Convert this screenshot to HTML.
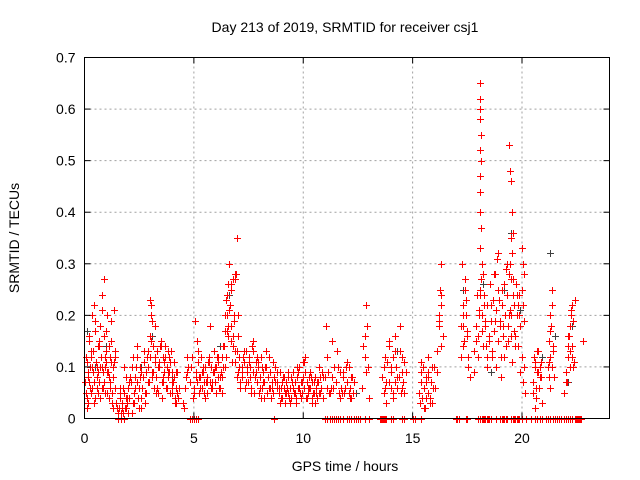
<!DOCTYPE html>
<html><head><meta charset="utf-8"><style>
html,body{margin:0;padding:0;background:#fff;}
svg{display:block;font-family:"Liberation Sans",sans-serif;}
</style></head><body>
<svg id="chart" width="640" height="480" viewBox="0 0 640 480" xmlns="http://www.w3.org/2000/svg">
<text x="345" y="32" font-size="14" text-anchor="middle" fill="#000">Day 213 of 2019, SRMTID for receiver csj1</text>
<text transform="translate(19,238) rotate(-90)" font-size="14" text-anchor="middle" fill="#000">SRMTID / TECUs</text>
<text x="345" y="471" font-size="14" text-anchor="middle" fill="#000">GPS time / hours</text>
<g id="grid"></g>
<g id="black"></g>
<g id="red"></g>
<rect x="84.5" y="57.5" width="525" height="361" fill="none" stroke="#000" stroke-width="1"/>
<g id="ticks"></g>
</svg>
<script>
const xTicks=[0,5,10,15,20];
const yTicks=[0,0.1,0.2,0.3,0.4,0.5,0.6,0.7];
const yTickLabels=["0","0.1","0.2","0.3","0.4","0.5","0.6","0.7"];
const redHours=[
0.05,0.1,0.15,0.2,0.25,0.3,0.35,0.4,0.45,0.5,0.55,0.6,0.65,0.7,0.75,0.8,0.85,0.9,0.95,1.0,1.05,1.1,1.15,1.2,1.25,1.3,1.35,1.4,
0.1,0.2,0.3,0.4,0.5,0.6,0.7,0.8,0.9,1.0,1.1,1.2,1.3,1.4,0.15,0.35,0.55,0.75,0.95,1.15,1.35,0.25,0.45,0.65,0.85,1.05,1.25,
1.5,1.55,1.6,1.65,1.7,1.75,1.8,1.85,1.9,1.95,2.0,1.6,1.7,1.8,1.9,
2.05,2.1,2.2,2.3,2.4,2.5,2.6,2.7,2.8,2.9,3.0,3.05,3.1,3.2,3.3,3.4,3.5,3.6,3.7,3.8,3.9,4.0,4.1,4.2,4.3,
2.15,2.25,2.35,2.45,2.55,2.65,2.75,2.85,2.95,3.05,3.15,3.25,3.35,3.45,3.55,3.65,3.75,3.85,3.95,4.05,4.15,4.25,
2.2,2.4,2.6,2.8,3.0,3.2,3.4,3.6,3.8,4.0,4.2,3.0,3.05,3.1,
4.5,4.6,4.7,4.8,4.9,5.0,5.1,5.2,5.3,5.4,5.5,5.6,5.7,5.8,5.9,6.0,6.1,6.2,
4.55,4.75,4.95,5.15,5.35,5.55,5.75,5.95,6.15,5.05,5.25,5.45,5.65,5.85,6.05,
6.3,6.35,6.4,6.45,6.5,6.55,6.6,6.65,6.7,6.75,6.8,6.85,6.9,6.95,7.0,7.05,7.1,
6.3,6.4,6.5,6.6,6.7,6.8,6.9,7.0,6.45,6.55,6.65,6.85,6.95,6.9,6.92,
7.2,7.3,7.4,7.5,7.6,7.7,7.8,7.9,8.0,8.1,8.2,8.3,8.4,8.5,8.6,8.7,8.8,
7.25,7.35,7.45,7.55,7.65,7.75,7.85,7.95,8.05,8.15,8.25,8.35,8.45,8.55,8.65,
8.9,9.0,9.1,9.2,9.3,9.4,9.5,9.6,9.7,9.8,9.9,10.0,10.1,10.2,10.3,10.4,10.5,10.6,10.7,10.8,10.9,
8.95,9.05,9.15,9.25,9.35,9.45,9.55,9.65,9.75,9.85,9.95,10.05,10.15,10.25,10.35,10.45,10.55,10.65,10.75,10.85,
11.0,11.1,11.2,11.3,11.5,11.6,11.7,11.8,11.9,12.0,12.1,12.2,12.3,11.05,11.25,11.55,11.75,11.95,12.15,
12.7,12.8,12.85,12.9,13.0,12.75,12.95,12.85,12.8,
13.6,13.7,13.75,13.8,13.9,14.0,14.1,14.2,14.3,14.4,14.5,14.6,14.7,13.7,13.8,13.9,14.0,14.2,14.3,14.5,14.6,
15.3,15.4,15.5,15.6,15.7,15.8,15.9,16.0,16.1,16.2,16.3,16.4,15.4,15.5,15.6,15.7,15.8,16.1,16.2,16.3,16.25,16.3,
17.2,17.3,17.4,17.5,17.6,17.25,17.35,17.45,17.55,17.3,17.4,
17.8,17.9,18.0,18.05,18.1,18.15,18.2,18.25,18.3,18.35,18.4,
18.1,18.1,18.1,18.1,18.12,18.1,18.12,18.1,18.08,18.1,18.12,18.1,18.15,18.12,18.1,
18.5,18.6,18.7,18.8,18.9,19.0,19.1,19.2,19.3,19.4,19.5,19.6,19.7,19.8,19.9,
18.55,18.65,18.75,18.85,18.95,19.05,19.15,19.25,19.35,19.45,19.55,19.65,19.75,19.85,
19.4,19.45,19.5,19.55,19.6,19.5,19.45,19.5,19.55,19.6,19.5,
20.0,20.05,20.1,20.0,20.05,20.1,20.0,20.05,
20.5,20.6,20.7,20.8,20.9,20.55,20.65,20.75,20.85,20.6,
21.2,21.25,21.3,21.35,21.4,21.45,21.3,21.35,21.3,21.25,
21.9,22.0,22.1,22.2,22.3,22.4,22.05,22.15,22.25,22.35,22.2,22.3,22.8,
4.8,4.9,5.0,5.1,5.2,8.65,11.0,11.2,11.4,11.6,11.8,12.0,12.2,12.4,12.6,12.8,13.0,13.5,13.6,13.7,13.8,14.0,14.1,14.5,14.6,15.0,15.1,15.4,17.0,17.1,17.5,18.0,18.1,18.3,18.4,18.5,18.6,18.8,19.0,19.1,19.2,19.5,19.6,19.7,19.8,20.0,20.2,20.4,20.6,20.9,21.1,21.2,21.3,21.4,21.5,21.8,21.9,22.0,22.1,22.2,22.3,22.5,22.6,22.7
];
const redValues=[
0.05,0.11,0.08,0.15,0.06,0.12,0.2,0.09,0.22,0.04,0.1,0.14,0.07,0.18,0.12,0.24,0.09,0.16,0.05,0.13,0.2,0.08,0.12,0.15,0.03,0.1,0.21,0.06,
0.02,0.07,0.13,0.09,0.17,0.05,0.1,0.06,0.27,0.11,0.04,0.19,0.08,0.13,0.03,0.06,0.08,0.12,0.1,0.07,0.11,0.1,0.03,0.14,0.06,0.09,0.05,
0.02,0.01,0.04,0.0,0.03,0.01,0.05,0.02,0.08,0.03,0.06,0.06,0.02,0.1,0.04,
0.04,0.08,0.12,0.06,0.14,0.02,0.09,0.11,0.05,0.13,0.16,0.22,0.08,0.12,0.06,0.1,0.14,0.07,0.12,0.09,0.11,0.05,0.08,0.03,0.06,
0.01,0.05,0.1,0.04,0.08,0.06,0.03,0.12,0.07,0.15,0.09,0.05,0.1,0.14,0.04,0.11,0.06,0.09,0.13,0.07,0.04,0.05,
0.03,0.07,0.02,0.09,0.12,0.18,0.11,0.08,0.13,0.06,0.09,0.23,0.2,0.19,
0.03,0.06,0.09,0.07,0.12,0.05,0.08,0.13,0.06,0.1,0.04,0.07,0.11,0.06,0.09,0.05,0.12,0.08,
0.02,0.1,0.04,0.15,0.09,0.07,0.18,0.1,0.06,0.19,0.08,0.05,0.11,0.07,0.12,
0.08,0.14,0.2,0.12,0.24,0.18,0.3,0.22,0.15,0.11,0.27,0.19,0.13,0.08,0.16,0.1,0.06,
0.05,0.1,0.17,0.21,0.26,0.16,0.28,0.2,0.23,0.26,0.22,0.19,0.35,0.27,0.28,
0.09,0.13,0.07,0.11,0.05,0.15,0.08,0.12,0.06,0.1,0.04,0.13,0.08,0.06,0.11,0.07,0.09,
0.12,0.06,0.1,0.08,0.14,0.05,0.09,0.11,0.04,0.07,0.1,0.05,0.12,0.06,0.08,
0.06,0.04,0.08,0.05,0.09,0.03,0.07,0.05,0.1,0.06,0.04,0.08,0.12,0.06,0.09,0.04,0.07,0.05,0.1,0.06,0.08,
0.03,0.07,0.05,0.06,0.04,0.08,0.06,0.03,0.09,0.05,0.07,0.11,0.04,0.06,0.08,0.05,0.03,0.07,0.05,0.09,
0.08,0.12,0.05,0.15,0.07,0.1,0.04,0.09,0.06,0.11,0.05,0.08,0.07,0.18,0.06,0.13,0.05,0.1,0.04,
0.06,0.12,0.09,0.18,0.04,0.14,0.1,0.22,0.16,
0.08,0.05,0.12,0.07,0.15,0.1,0.04,0.13,0.08,0.18,0.06,0.11,0.09,0.1,0.03,0.14,0.06,0.16,0.08,0.12,0.05,
0.05,0.09,0.02,0.07,0.12,0.04,0.1,0.06,0.13,0.2,0.24,0.16,0.11,0.06,0.04,0.08,0.03,0.09,0.19,0.3,0.25,0.22,
0.12,0.2,0.27,0.16,0.08,0.3,0.15,0.23,0.1,0.18,0.25,
0.09,0.15,0.12,0.2,0.25,0.17,0.28,0.22,0.19,0.14,0.1,
0.65,0.62,0.6,0.58,0.55,0.52,0.5,0.47,0.44,0.4,0.37,0.33,0.3,0.27,0.24,
0.15,0.22,0.28,0.1,0.32,0.18,0.25,0.12,0.3,0.2,0.16,0.27,0.14,0.22,0.09,
0.26,0.12,0.19,0.31,0.23,0.08,0.18,0.29,0.15,0.21,0.11,0.17,0.24,0.2,
0.53,0.48,0.46,0.4,0.36,0.35,0.3,0.27,0.32,0.24,0.2,
0.33,0.3,0.28,0.25,0.22,0.19,0.12,0.07,
0.05,0.1,0.13,0.08,0.03,0.12,0.06,0.09,0.11,0.02,
0.1,0.15,0.2,0.25,0.13,0.08,0.17,0.22,0.06,0.11,
0.05,0.09,0.14,0.18,0.12,0.23,0.07,0.16,0.2,0.1,0.13,0.22,0.15,
0,0,0,0,0,0,0,0,0,0,0,0,0,0,0,0,0,0,0,0,0,0,0,0,0,0,0,0,0,0,0,0,0,0,0,0,0,0,0,0,0,0,0,0,0,0,0,0,0,0,0,0,0,0,0,0,0,0,0,0,0,0,0,0
];
const redHours2=[
0.02,0.08,0.12,0.18,0.22,0.28,0.32,0.38,0.42,0.48,0.52,0.58,0.62,0.68,0.72,0.78,0.82,0.88,0.92,0.98,1.02,1.08,1.12,1.18,1.22,1.28,1.32,1.38,
1.45,1.52,1.58,1.62,1.68,1.72,1.78,1.82,1.88,1.92,1.98,2.02,
2.12,2.18,2.28,2.32,2.38,2.48,2.52,2.58,2.68,2.72,2.78,2.88,2.92,2.98,3.08,3.12,3.18,3.22,3.28,3.32,3.38,3.42,3.48,3.52,3.58,3.62,3.68,3.72,3.78,3.82,3.88,3.92,3.98,4.02,4.08,4.12,4.18,4.22,4.28,
4.62,4.68,4.82,4.88,5.02,5.08,5.12,5.18,5.22,5.28,5.32,5.38,5.42,5.48,5.52,5.58,5.62,5.68,5.72,5.78,5.82,5.88,5.92,5.98,6.02,6.08,6.12,6.18,6.22,6.28,
6.32,6.38,6.42,6.48,6.52,6.58,6.62,6.68,6.72,6.78,6.82,6.88,6.98,7.02,7.08,7.12,7.18,
7.22,7.28,7.32,7.38,7.42,7.48,7.52,7.58,7.62,7.68,7.72,7.78,7.82,7.88,7.92,7.98,8.02,8.08,8.12,8.18,8.22,8.28,8.32,8.38,8.42,8.48,8.52,8.58,8.62,8.68,8.72,8.78,
8.82,8.88,8.92,8.98,9.02,9.08,9.12,9.18,9.22,9.28,9.32,9.38,9.42,9.48,9.52,9.58,9.62,9.68,9.72,9.78,9.82,9.88,9.92,9.98,10.02,10.08,10.12,10.18,10.22,10.28,10.32,10.38,10.42,10.48,10.52,10.58,10.62,10.68,10.72,10.78,10.82,10.88,
11.08,11.12,11.18,11.32,11.38,11.42,11.48,11.62,11.68,11.72,11.82,11.88,12.02,12.08,12.12,12.18,12.22,12.28,
13.72,13.82,13.92,14.02,14.08,14.12,14.18,14.22,14.28,14.38,14.42,14.48,14.52,14.58,
15.32,15.38,15.42,15.48,15.52,15.58,15.62,15.68,15.72,15.78,15.82,15.88,15.92,15.98,16.22,16.28,
17.22,17.28,17.32,17.38,17.42,17.48,17.52,17.82,17.88,17.92,17.98,18.02,18.18,18.22,18.28,18.32,18.38,18.42,18.48,18.52,18.58,18.62,18.68,18.72,18.78,18.82,18.88,18.92,18.98,19.02,19.08,19.12,19.18,19.22,19.28,19.32,19.38,19.42,19.62,19.68,19.72,19.78,19.82,19.88,19.92,19.98,20.08,20.12,
20.52,20.58,20.62,20.68,20.72,20.78,20.82,20.88,20.92,
21.22,21.28,21.32,21.38,21.42,
22.02,22.08,22.12,22.18,22.22,22.28,22.32,22.38,
18.15,18.2,18.25,18.45,19.15,19.25,19.3,19.65,19.75,19.85,20.7,20.8,21.6,21.7,22.4,22.45,22.55,22.65,11.1,11.3,11.5,11.7,12.1,12.3,12.5,13.55,13.65,13.75,17.05,17.45
];
const redValues2=[
0.07,0.12,0.04,0.09,0.16,0.05,0.1,0.13,0.07,0.19,0.11,0.06,0.09,0.15,0.04,0.1,0.21,0.07,0.12,0.17,0.05,0.09,0.14,0.06,0.11,0.08,0.02,0.12,
0.03,0.0,0.02,0.05,0.01,0.03,0.06,0.0,0.02,0.04,0.01,0.07,
0.07,0.1,0.03,0.08,0.12,0.06,0.1,0.04,0.08,0.13,0.05,0.1,0.07,0.12,0.09,0.14,0.06,0.11,0.08,0.13,0.05,0.1,0.15,0.07,0.12,0.09,0.14,0.06,0.1,0.08,0.12,0.05,0.09,0.07,0.11,0.03,0.06,0.09,0.04,
0.08,0.12,0.07,0.1,0.06,0.09,0.07,0.11,0.05,0.08,0.12,0.06,0.09,0.07,0.1,0.05,0.08,0.12,0.07,0.1,0.06,0.09,0.13,0.07,0.1,0.08,0.11,0.06,0.09,0.12,
0.1,0.14,0.17,0.12,0.2,0.16,0.21,0.25,0.18,0.14,0.2,0.11,0.13,0.09,0.12,0.07,0.1,
0.08,0.11,0.06,0.13,0.09,0.07,0.12,0.1,0.06,0.09,0.13,0.08,0.11,0.07,0.1,0.05,0.08,0.12,0.06,0.09,0.07,0.1,0.05,0.08,0.06,0.09,0.04,0.07,0.05,0.08,0.1,0.06,
0.07,0.05,0.09,0.06,0.04,0.08,0.06,0.03,0.07,0.05,0.08,0.06,0.04,0.07,0.09,0.05,0.07,0.04,0.08,0.06,0.1,0.07,0.05,0.11,0.06,0.09,0.04,0.07,0.05,0.08,0.06,0.03,0.07,0.05,0.08,0.06,0.04,0.07,0.05,0.08,0.06,0.04,
0.06,0.09,0.05,0.08,0.06,0.1,0.07,0.05,0.09,0.06,0.08,0.05,0.07,0.1,0.06,0.04,0.08,0.05,
0.06,0.11,0.07,0.09,0.05,0.12,0.07,0.1,0.06,0.08,0.13,0.05,0.09,0.07,
0.03,0.07,0.04,0.1,0.06,0.02,0.08,0.05,0.09,0.04,0.07,0.03,0.06,0.1,0.18,0.14,
0.18,0.22,0.14,0.27,0.2,0.17,0.12,0.13,0.18,0.24,0.16,0.21,0.2,0.14,0.24,0.18,0.12,0.22,0.16,0.26,0.19,0.13,0.23,0.17,0.28,0.21,0.15,0.25,0.19,0.12,0.22,0.16,0.26,0.2,0.14,0.24,0.18,0.28,0.22,0.16,0.26,0.2,0.14,0.24,0.18,0.12,0.1,0.05,
0.07,0.11,0.04,0.09,0.13,0.06,0.1,0.08,0.03,
0.08,0.12,0.18,0.1,0.14,
0.07,0.12,0.16,0.1,0.21,0.14,0.19,0.11,
0,0,0,0,0,0,0,0,0,0,0,0,0,0,0,0,0,0,0,0,0,0,0,0,0,0,0,0,0,0
];
const blackHours=[0.1,0.5,1.0,2.6,3.1,4.0,5.2,6.2,6.6,7.7,9.5,12.4,14.3,15.9,16.2,17.3,18.2,18.6,19.2,19.5,19.9,20.9,21.3,21.5,22.1,22.3];
const blackValues=[0.17,0.1,0.14,0.1,0.16,0.08,0.11,0.14,0.24,0.09,0.07,0.05,0.13,0.1,0.2,0.25,0.26,0.09,0.25,0.36,0.21,0.12,0.32,0.16,0.07,0.18];

const X0=84.5,X1=609.5,Y0=418.5,Y1=57.5;
function xs(h){return X0+(h/24)*(X1-X0);}
function ys(v){return Y0-(v/0.7)*(Y0-Y1);}
const NS="http://www.w3.org/2000/svg";
const grid=document.getElementById('grid'),ticks=document.getElementById('ticks');
function mk(tag,attrs,parent){const e=document.createElementNS(NS,tag);for(const k in attrs)e.setAttribute(k,attrs[k]);parent.appendChild(e);return e;}
xTicks.forEach(t=>{const x=xs(t);
 if(t>0){const g=mk('line',{x1:x,x2:x,y1:Y0,y2:Y1,stroke:'#a0a0a0','stroke-dasharray':'2,3'},grid);
 
 }
 const a=mk('line',{x1:x,x2:x,y1:Y0,y2:Y0-6,stroke:'#000'},ticks);
 
 
 const b=mk('line',{x1:x,x2:x,y1:Y1,y2:Y1+6,stroke:'#000'},ticks);
 
 
 const tx=mk('text',{x:x,y:443,'font-size':14,'text-anchor':'middle'},ticks);tx.textContent=String(t);
 
 
});
yTicks.forEach((t,i)=>{const y=ys(t);
 if(t>0&&t<0.7){const g=mk('line',{x1:X0,x2:X1,y1:y,y2:y,stroke:'#a0a0a0','stroke-dasharray':'2,3'},grid);
 
 }
 const a=mk('line',{x1:X0,x2:X0+6,y1:y,y2:y,stroke:'#000'},ticks);
 
 
 const b=mk('line',{x1:X1,x2:X1-6,y1:y,y2:y,stroke:'#000'},ticks);
 
 
 const tx=mk('text',{x:X0-9,y:y+5,'font-size':14,'text-anchor':'end'},ticks);tx.textContent=yTickLabels[i];
 
 
});
function plus(h,v,color,parent){const x=Math.round(xs(h))+0.5,y=Math.round(ys(v))+0.5;
 const p=mk('path',{d:`M${x-3.5},${y}H${x+3.5}M${x},${y-3.5}V${y+3.5}`,stroke:color,'stroke-width':1,fill:'none'},parent);
 return p;}
const bg=document.getElementById('black');
blackHours.forEach((h,i)=>{const p=plus(h,blackValues[i],'#404040',bg);
 
 });
const rg=document.getElementById('red');
const allRedHours=redHours.concat(redHours2);
const allRedValues=redValues.concat(redValues2);
allRedHours.forEach((h,i)=>{const p=plus(h,allRedValues[i],'#ff0000',rg);
 
 });
</script>
</body></html>
